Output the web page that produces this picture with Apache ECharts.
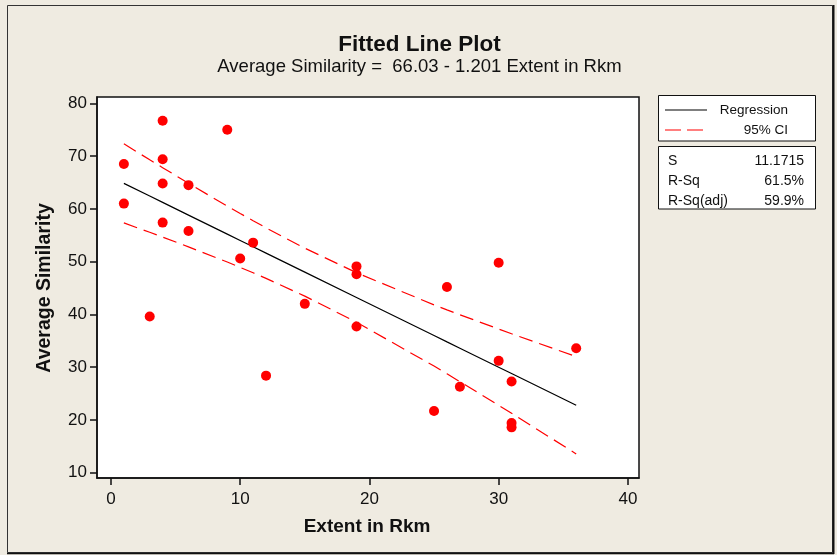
<!DOCTYPE html>
<html><head><meta charset="utf-8">
<script src="https://cdn.jsdelivr.net/npm/echarts@6/dist/echarts.min.js"></script>
<style>html,body{margin:0;padding:0;background:#EFEBE1;}#c{width:837px;height:555px;}</style>
</head><body><div id="c"></div>
<script>
// Observations
var extent = [1,1,3,4,4,4,4,6,6,9,10,11,12,15,19,19,19,25,26,27,30,30,31,31,31,36];
var similarity = [68.5,61.0,39.6,76.7,69.4,64.8,57.4,64.5,55.8,75.0,50.6,53.6,28.4,42.0,49.1,47.6,37.7,21.7,45.2,26.3,49.8,31.2,27.3,19.4,18.6,33.6];
// Fitted line and 95% CI (read at distinct x positions)
var fitX   = [1,3,4,6,9,10,11,12,15,19,25,26,27,30,31,36];
var fitY   = [64.83,62.43,61.23,58.82,55.22,54.02,52.82,51.62,48.01,43.21,36.01,34.80,33.60,30.00,28.80,22.79];
var ciUpper= [72.32,69.30,67.81,64.84,60.52,59.13,57.75,56.41,52.55,47.90,41.81,40.86,39.94,37.23,36.34,32.01];
var ciLower= [57.34,55.56,54.65,52.80,49.92,48.91,47.89,46.83,43.47,38.52,30.21,28.74,27.26,22.77,21.26,13.57];
// Tick labels
var xTicks = [0,10,20,30,40];
var yTicks = [10,20,30,40,50,60,70,80];
var titleText = 'Fitted Line Plot';
var subtitleText = 'Average Similarity =  66.03 - 1.201 Extent in Rkm';
var xName = 'Extent in Rkm';
var yName = 'Average Similarity';
var statNames = ['S','R-Sq','R-Sq(adj)'];
var statValues = ['11.1715','61.5%','59.9%'];

function zip(a,b){return a.map(function(v,i){return [v,b[i]];});}
var FONT = '"Liberation Sans", Arial, sans-serif';
var chart = echarts.init(document.getElementById('c'));

var graphics = [
  {type:'rect', shape:{x:7.5,y:5.5,width:825,height:547}, style:{fill:null, stroke:'#333', lineWidth:1}, z:0},
  {type:'line', shape:{x1:833.5,y1:5,x2:833.5,y2:554}, style:{stroke:'#111', lineWidth:2}},
  {type:'line', shape:{x1:7,y1:553.5,x2:834,y2:553.5}, style:{stroke:'#111', lineWidth:1.5}},
  {type:'text', x:419.5, y:45, style:{text:titleText, font:'bold 22.5px '+FONT, fill:'#111', align:'center', verticalAlign:'middle'}},
  {type:'text', x:419.5, y:67, style:{text:subtitleText, font:'18.5px '+FONT, fill:'#111', align:'center', verticalAlign:'middle'}},
  {type:'text', x:367, y:527, style:{text:xName, font:'bold 19px '+FONT, fill:'#111', align:'center', verticalAlign:'middle'}},
  {type:'text', x:45, y:288, rotation:Math.PI/2, style:{text:yName, font:'bold 19.5px '+FONT, fill:'#111', align:'center', verticalAlign:'middle'}},
  // legend box
  {type:'rect', shape:{x:658.5,y:95.5,width:157,height:45.5}, style:{fill:'#fff', stroke:'#111', lineWidth:1}},
  {type:'line', shape:{x1:665,y1:110,x2:707,y2:110}, style:{stroke:'#000', lineWidth:1.2}},
  {type:'text', x:788, y:110.5, style:{text:'Regression', font:'13.5px '+FONT, fill:'#111', align:'right', verticalAlign:'middle'}},
  {type:'line', shape:{x1:665,y1:130,x2:704,y2:130}, style:{stroke:'#f00', lineWidth:1.2, lineDash:[16,6]}},
  {type:'text', x:788, y:130.5, style:{text:'95% CI', font:'13.5px '+FONT, fill:'#111', align:'right', verticalAlign:'middle'}},
  // stats box
  {type:'rect', shape:{x:658.5,y:146.5,width:157,height:62.5}, style:{fill:'#fff', stroke:'#111', lineWidth:1}}
];
statNames.forEach(function(n,i){
  graphics.push({type:'text', x:668, y:161+i*20, style:{text:n, font:'14px '+FONT, fill:'#111', align:'left', verticalAlign:'middle'}});
  graphics.push({type:'text', x:804, y:161+i*20, style:{text:statValues[i], font:'14px '+FONT, fill:'#111', align:'right', verticalAlign:'middle'}});
});

var axisCommon = {
  type:'value',
  axisLine:{show:true, onZero:false, lineStyle:{color:'#111', width:1.5}},
  splitLine:{show:false},
  axisTick:{show:true, inside:false, length:7, lineStyle:{color:'#111', width:1.5}},
  axisLabel:{color:'#111', fontSize:17, fontFamily:FONT}
};

chart.setOption({
  animation:false,
  backgroundColor:'#EFEBE1',
  grid:{left:97, top:97, width:542, height:381, show:true, backgroundColor:'#fff', borderColor:'#111', borderWidth:1.5},
  xAxis: echarts.util.merge({
    min:-1.08, max:40.86,
    axisTick:{customValues:xTicks},
    axisLabel:{customValues:xTicks, margin:13}
  }, axisCommon),
  yAxis: echarts.util.merge({
    min:9.0, max:81.2,
    axisTick:{customValues:yTicks},
    axisLabel:{customValues:yTicks, margin:10}
  }, axisCommon),
  graphic: graphics,
  series:[
    {type:'line', data:zip(fitX,ciUpper), symbol:'none', lineStyle:{color:'#f00', width:1.2, type:[14,7]}, z:2},
    {type:'line', data:zip(fitX,ciLower), symbol:'none', lineStyle:{color:'#f00', width:1.2, type:[14,7]}, z:2},
    {type:'line', data:zip(fitX,fitY), symbol:'none', lineStyle:{color:'#000', width:1.2}, z:3},
    {type:'scatter', data:zip(extent,similarity), symbol:'circle', symbolSize:10, itemStyle:{color:'#f00', opacity:1}, z:4}
  ]
});
</script>
</body></html>
